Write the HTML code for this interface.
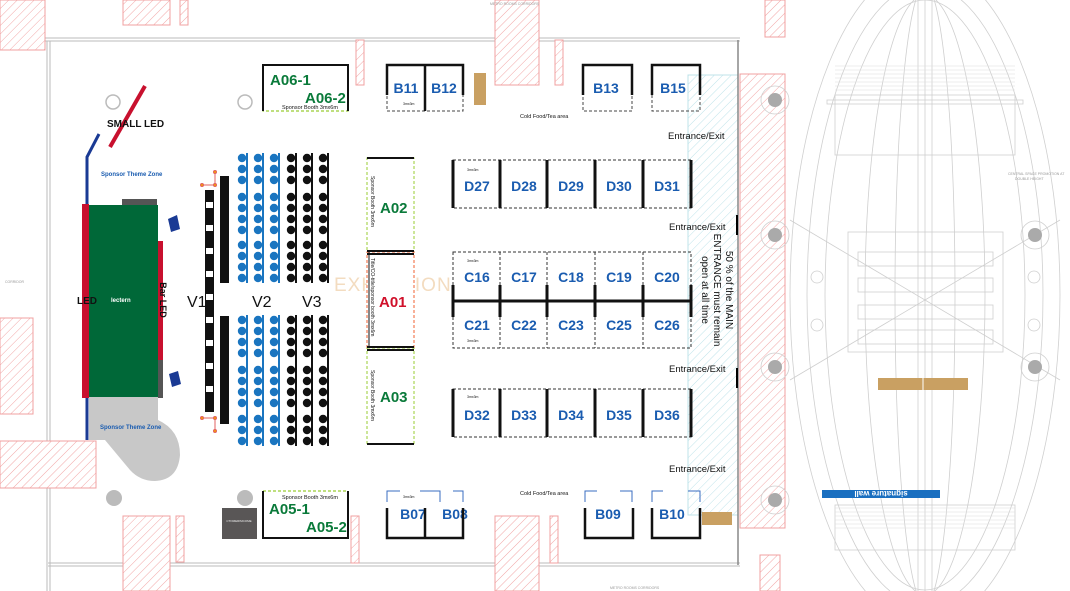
<!DOCTYPE html>
<html><head><meta charset="utf-8"><style>
html,body{margin:0;padding:0;background:#fff;width:1070px;height:591px;overflow:hidden;}
svg{display:block;font-family:"Liberation Sans",sans-serif;}
</style></head><body>
<svg width="1070" height="591" viewBox="0 0 1070 591" xmlns="http://www.w3.org/2000/svg">
<defs>
<pattern id="hr" width="6" height="6" patternUnits="userSpaceOnUse" patternTransform="rotate(45)">
<rect width="6" height="6" fill="#fff"/><line x1="0" y1="0" x2="0" y2="6" stroke="#f2a6a6" stroke-width="1"/></pattern>
<pattern id="hc" width="6" height="6" patternUnits="userSpaceOnUse" patternTransform="rotate(45)">
<rect width="6" height="6" fill="#fff"/><line x1="0" y1="0" x2="0" y2="6" stroke="#bfe3ea" stroke-width="1"/></pattern>
</defs>
<g stroke="#bbb" stroke-width="1" fill="none">
<line x1="0" y1="38" x2="740" y2="38"/><line x1="0" y1="41" x2="740" y2="41"/>
<line x1="48" y1="563" x2="740" y2="563"/><line x1="48" y1="566" x2="740" y2="566"/>
<line x1="47" y1="41" x2="47" y2="591"/><line x1="50" y1="41" x2="50" y2="591"/>
</g>
<g fill="url(#hr)" stroke="#f0a0a0" stroke-width="1">
<rect x="0" y="0" width="45" height="50"/>
<rect x="123" y="0" width="47" height="25"/><rect x="180" y="0" width="8" height="25"/>
<rect x="495" y="0" width="44" height="85"/>
<rect x="356" y="40" width="8" height="45"/><rect x="555" y="40" width="8" height="45"/>
<rect x="495" y="516" width="44" height="75"/>
<rect x="351" y="516" width="8" height="47"/><rect x="550" y="516" width="8" height="47"/>
<rect x="123" y="516" width="47" height="75"/><rect x="176" y="516" width="8" height="46"/>
<rect x="0" y="318" width="33" height="96"/>
<rect x="0" y="441" width="96" height="47"/>
<rect x="765" y="0" width="20" height="37"/>
<rect x="740" y="74" width="45" height="454"/>
<rect x="760" y="555" width="20" height="36"/>
</g>
<rect x="688" y="75" width="50" height="440" fill="url(#hc)" stroke="#bfe3ea"/>
<line x1="738" y1="40" x2="738" y2="565" stroke="#888" stroke-width="1.5"/>
<line x1="737" y1="215" x2="737" y2="235" stroke="#000" stroke-width="2"/>
<line x1="737" y1="368" x2="737" y2="388" stroke="#000" stroke-width="2"/>
<g stroke="#cfcfcf" stroke-width="0.8" fill="none">
<ellipse cx="925" cy="295" rx="135" ry="330"/>
<ellipse cx="925" cy="295" rx="118" ry="310"/>
<ellipse cx="925" cy="295" rx="100" ry="295"/>
<ellipse cx="925" cy="295" rx="60" ry="300"/>
<ellipse cx="925" cy="295" rx="30" ry="310"/>
<line x1="925" y1="0" x2="925" y2="591"/><line x1="918" y1="0" x2="918" y2="591"/><line x1="932" y1="0" x2="932" y2="591"/>
<rect x="835" y="95" width="180" height="60"/><rect x="827" y="100" width="196" height="4"/>
<rect x="835" y="505" width="180" height="45"/>
<rect x="848" y="232" width="155" height="120"/>
<rect x="858" y="252" width="135" height="14"/><rect x="858" y="278" width="135" height="14"/><rect x="858" y="305" width="135" height="14"/><rect x="858" y="330" width="135" height="14"/>
<line x1="790" y1="220" x2="1060" y2="380"/><line x1="790" y1="380" x2="1060" y2="220"/>
<circle cx="775" cy="100" r="14"/><circle cx="775" cy="235" r="14"/><circle cx="775" cy="367" r="14"/><circle cx="775" cy="500" r="14"/>
<circle cx="1035" cy="235" r="14"/><circle cx="1035" cy="367" r="14"/>
<circle cx="817" cy="277" r="6"/><circle cx="817" cy="325" r="6"/><circle cx="1034" cy="277" r="6"/><circle cx="1034" cy="325" r="6"/>
</g>
<g stroke="#ddd" stroke-width="0.6">
<line x1="835" y1="66" x2="1015" y2="66"/><line x1="835" y1="70" x2="1015" y2="70"/><line x1="835" y1="74" x2="1015" y2="74"/><line x1="835" y1="78" x2="1015" y2="78"/><line x1="835" y1="82" x2="1015" y2="82"/><line x1="835" y1="86" x2="1015" y2="86"/><line x1="835" y1="90" x2="1015" y2="90"/>
<line x1="835" y1="508" x2="1015" y2="508"/><line x1="835" y1="512" x2="1015" y2="512"/><line x1="835" y1="516" x2="1015" y2="516"/><line x1="835" y1="520" x2="1015" y2="520"/><line x1="835" y1="524" x2="1015" y2="524"/><line x1="835" y1="528" x2="1015" y2="528"/>
</g>
<g fill="#aaa"><circle cx="775" cy="100" r="7"/><circle cx="775" cy="235" r="7"/><circle cx="775" cy="367" r="7"/><circle cx="775" cy="500" r="7"/><circle cx="1035" cy="235" r="7"/><circle cx="1035" cy="367" r="7"/></g>
<rect x="878" y="378" width="90" height="12" fill="#c9a062"/><line x1="923" y1="378" x2="923" y2="390" stroke="#fff"/>
<rect x="822" y="490" width="118" height="8" fill="#1a6fc0"/>
<text x="881" y="497" font-size="8" font-weight="bold" fill="#fff" text-anchor="middle" transform="rotate(180 881 494)">signature wall</text>
<path d="M89 397 L158 397 L158 420 Q180 430 180 455 Q178 480 155 481 Q140 481 130 470 L105 440 L89 440 Z" fill="#c8c8c8"/>
<rect x="122" y="199" width="35" height="7" fill="#555"/>
<rect x="158" y="360" width="5" height="38" fill="#555"/>
<rect x="89" y="205" width="69" height="192" fill="#006838"/>
<rect x="82" y="204" width="7" height="194" fill="#c8102e"/>
<rect x="158" y="241" width="5" height="119" fill="#c8102e"/>
<polyline points="87,204 87,157 99,134" fill="none" stroke="#1a3a94" stroke-width="3"/>
<line x1="87" y1="398" x2="87" y2="440" stroke="#1a3a94" stroke-width="3"/>
<line x1="145" y1="86" x2="110" y2="147" stroke="#c8102e" stroke-width="4"/>
<polygon points="168,219 177,215 180,229 171,232" fill="#1a3a94"/>
<polygon points="169,374 178,371 181,384 172,387" fill="#1a3a94"/>
<text x="107" y="127" font-size="10" font-weight="bold" fill="#111">SMALL LED</text>
<text x="101" y="176" font-size="6" fill="#1a5cb0" font-weight="bold">Sponsor Theme Zone</text>
<text x="100" y="429" font-size="6" fill="#1a5cb0" font-weight="bold">Sponsor Theme Zone</text>
<text x="77" y="304" font-size="10" font-weight="bold" fill="#111">LED</text>
<text x="111" y="302" font-size="6" font-weight="bold" fill="#fff">lectern</text>
<text x="160" y="300" font-size="9" font-weight="bold" fill="#111" transform="rotate(90 160 300)" text-anchor="middle">Bar LED</text>
<circle cx="113" cy="102" r="7" fill="none" stroke="#bbb" stroke-width="1.5"/>
<circle cx="245" cy="102" r="7" fill="none" stroke="#bbb" stroke-width="1.5"/>
<circle cx="114" cy="498" r="8" fill="#bbb"/><circle cx="245" cy="498" r="8" fill="#bbb"/>
<rect x="222" y="508" width="35" height="31" fill="#595656"/>
<text x="239" y="522" font-size="3" fill="#eee" text-anchor="middle">CTOMERIMCOME</text>
<rect x="205" y="190" width="9" height="222" fill="#111"/>
<g fill="#fff"><rect x="206" y="202" width="7" height="6"/><rect x="206" y="225" width="7" height="6"/><rect x="206" y="248" width="7" height="6"/><rect x="206" y="271" width="7" height="6"/><rect x="206" y="294" width="7" height="6"/><rect x="206" y="317" width="7" height="6"/><rect x="206" y="340" width="7" height="6"/><rect x="206" y="363" width="7" height="6"/><rect x="206" y="386" width="7" height="6"/></g>
<rect x="220" y="176" width="9" height="107" fill="#111"/>
<rect x="220" y="316" width="9" height="108" fill="#111"/>
<g stroke="#e06060" stroke-width="1" fill="#f5a000"><polyline points="202,185 215,185 215,172" fill="none"/><polyline points="202,418 215,418 215,431" fill="none"/><circle cx="202" cy="185" r="1.5"/><circle cx="215" cy="172" r="1.5"/><circle cx="215" cy="185" r="1.5"/><circle cx="202" cy="418" r="1.5"/><circle cx="215" cy="418" r="1.5"/><circle cx="215" cy="431" r="1.5"/></g>
<g font-size="16" fill="#111"><text x="187" y="307">V1</text><text x="252" y="307">V2</text><text x="302" y="307">V3</text></g>
<g fill="#1a75c0">
<circle cx="242" cy="158" r="4.2"/><circle cx="258" cy="158" r="4.2"/><circle cx="274" cy="158" r="4.2"/>
<circle cx="242" cy="169" r="4.2"/><circle cx="258" cy="169" r="4.2"/><circle cx="274" cy="169" r="4.2"/>
<circle cx="242" cy="180" r="4.2"/><circle cx="258" cy="180" r="4.2"/><circle cx="274" cy="180" r="4.2"/>
<circle cx="242" cy="197" r="4.2"/><circle cx="258" cy="197" r="4.2"/><circle cx="274" cy="197" r="4.2"/>
<circle cx="242" cy="208" r="4.2"/><circle cx="258" cy="208" r="4.2"/><circle cx="274" cy="208" r="4.2"/>
<circle cx="242" cy="219" r="4.2"/><circle cx="258" cy="219" r="4.2"/><circle cx="274" cy="219" r="4.2"/>
<circle cx="242" cy="230" r="4.2"/><circle cx="258" cy="230" r="4.2"/><circle cx="274" cy="230" r="4.2"/>
<circle cx="242" cy="245" r="4.2"/><circle cx="258" cy="245" r="4.2"/><circle cx="274" cy="245" r="4.2"/>
<circle cx="242" cy="256" r="4.2"/><circle cx="258" cy="256" r="4.2"/><circle cx="274" cy="256" r="4.2"/>
<circle cx="242" cy="267" r="4.2"/><circle cx="258" cy="267" r="4.2"/><circle cx="274" cy="267" r="4.2"/>
<circle cx="242" cy="278" r="4.2"/><circle cx="258" cy="278" r="4.2"/><circle cx="274" cy="278" r="4.2"/>
<circle cx="242" cy="320" r="4.2"/><circle cx="258" cy="320" r="4.2"/><circle cx="274" cy="320" r="4.2"/>
<circle cx="242" cy="331" r="4.2"/><circle cx="258" cy="331" r="4.2"/><circle cx="274" cy="331" r="4.2"/>
<circle cx="242" cy="342" r="4.2"/><circle cx="258" cy="342" r="4.2"/><circle cx="274" cy="342" r="4.2"/>
<circle cx="242" cy="353" r="4.2"/><circle cx="258" cy="353" r="4.2"/><circle cx="274" cy="353" r="4.2"/>
<circle cx="242" cy="370" r="4.2"/><circle cx="258" cy="370" r="4.2"/><circle cx="274" cy="370" r="4.2"/>
<circle cx="242" cy="381" r="4.2"/><circle cx="258" cy="381" r="4.2"/><circle cx="274" cy="381" r="4.2"/>
<circle cx="242" cy="392" r="4.2"/><circle cx="258" cy="392" r="4.2"/><circle cx="274" cy="392" r="4.2"/>
<circle cx="242" cy="403" r="4.2"/><circle cx="258" cy="403" r="4.2"/><circle cx="274" cy="403" r="4.2"/>
<circle cx="242" cy="419" r="4.2"/><circle cx="258" cy="419" r="4.2"/><circle cx="274" cy="419" r="4.2"/>
<circle cx="242" cy="430" r="4.2"/><circle cx="258" cy="430" r="4.2"/><circle cx="274" cy="430" r="4.2"/>
<circle cx="242" cy="441" r="4.2"/><circle cx="258" cy="441" r="4.2"/><circle cx="274" cy="441" r="4.2"/>
<rect x="246" y="153" width="2" height="130" /><rect x="262" y="153" width="2" height="130"/><rect x="278" y="153" width="2" height="130"/>
<rect x="246" y="315" width="2" height="131"/><rect x="262" y="315" width="2" height="131"/><rect x="278" y="315" width="2" height="131"/>
</g>
<g fill="#111">
<circle cx="291" cy="158" r="4.2"/><circle cx="307" cy="158" r="4.2"/><circle cx="323" cy="158" r="4.2"/>
<circle cx="291" cy="169" r="4.2"/><circle cx="307" cy="169" r="4.2"/><circle cx="323" cy="169" r="4.2"/>
<circle cx="291" cy="180" r="4.2"/><circle cx="307" cy="180" r="4.2"/><circle cx="323" cy="180" r="4.2"/>
<circle cx="291" cy="197" r="4.2"/><circle cx="307" cy="197" r="4.2"/><circle cx="323" cy="197" r="4.2"/>
<circle cx="291" cy="208" r="4.2"/><circle cx="307" cy="208" r="4.2"/><circle cx="323" cy="208" r="4.2"/>
<circle cx="291" cy="219" r="4.2"/><circle cx="307" cy="219" r="4.2"/><circle cx="323" cy="219" r="4.2"/>
<circle cx="291" cy="230" r="4.2"/><circle cx="307" cy="230" r="4.2"/><circle cx="323" cy="230" r="4.2"/>
<circle cx="291" cy="245" r="4.2"/><circle cx="307" cy="245" r="4.2"/><circle cx="323" cy="245" r="4.2"/>
<circle cx="291" cy="256" r="4.2"/><circle cx="307" cy="256" r="4.2"/><circle cx="323" cy="256" r="4.2"/>
<circle cx="291" cy="267" r="4.2"/><circle cx="307" cy="267" r="4.2"/><circle cx="323" cy="267" r="4.2"/>
<circle cx="291" cy="278" r="4.2"/><circle cx="307" cy="278" r="4.2"/><circle cx="323" cy="278" r="4.2"/>
<circle cx="291" cy="320" r="4.2"/><circle cx="307" cy="320" r="4.2"/><circle cx="323" cy="320" r="4.2"/>
<circle cx="291" cy="331" r="4.2"/><circle cx="307" cy="331" r="4.2"/><circle cx="323" cy="331" r="4.2"/>
<circle cx="291" cy="342" r="4.2"/><circle cx="307" cy="342" r="4.2"/><circle cx="323" cy="342" r="4.2"/>
<circle cx="291" cy="353" r="4.2"/><circle cx="307" cy="353" r="4.2"/><circle cx="323" cy="353" r="4.2"/>
<circle cx="291" cy="370" r="4.2"/><circle cx="307" cy="370" r="4.2"/><circle cx="323" cy="370" r="4.2"/>
<circle cx="291" cy="381" r="4.2"/><circle cx="307" cy="381" r="4.2"/><circle cx="323" cy="381" r="4.2"/>
<circle cx="291" cy="392" r="4.2"/><circle cx="307" cy="392" r="4.2"/><circle cx="323" cy="392" r="4.2"/>
<circle cx="291" cy="403" r="4.2"/><circle cx="307" cy="403" r="4.2"/><circle cx="323" cy="403" r="4.2"/>
<circle cx="291" cy="419" r="4.2"/><circle cx="307" cy="419" r="4.2"/><circle cx="323" cy="419" r="4.2"/>
<circle cx="291" cy="430" r="4.2"/><circle cx="307" cy="430" r="4.2"/><circle cx="323" cy="430" r="4.2"/>
<circle cx="291" cy="441" r="4.2"/><circle cx="307" cy="441" r="4.2"/><circle cx="323" cy="441" r="4.2"/>
<rect x="295" y="153" width="2" height="130"/><rect x="311" y="153" width="2" height="130"/><rect x="327" y="153" width="2" height="130"/>
<rect x="295" y="315" width="2" height="131"/><rect x="311" y="315" width="2" height="131"/><rect x="327" y="315" width="2" height="131"/>
</g>
<text x="334" y="291" font-size="19" fill="#f3dcc0" letter-spacing="1">EXHIBITION</text>
<rect x="263" y="65" width="85" height="46" fill="#fff" stroke="#9c3" stroke-width="1.2" stroke-dasharray="3,2"/>
<path d="M263 111 V65 H348 V111" fill="none" stroke="#111" stroke-width="2"/>
<text x="270" y="85" font-size="15" font-weight="bold" fill="#0a7a3a">A06-1</text>
<text x="305" y="103" font-size="15" font-weight="bold" fill="#0a7a3a">A06-2</text>
<text x="282" y="109" font-size="5.5" fill="#111">Sponsor Booth  3mx6m</text>
<rect x="263" y="491" width="85" height="47" fill="#fff" stroke="#9c3" stroke-width="1.2" stroke-dasharray="3,2"/>
<path d="M263 491 V538 H348 V491" fill="none" stroke="#111" stroke-width="2"/>
<text x="282" y="499" font-size="5.5" fill="#111">Sponsor Booth  3mx6m</text>
<text x="269" y="514" font-size="15" font-weight="bold" fill="#0a7a3a">A05-1</text>
<text x="306" y="532" font-size="15" font-weight="bold" fill="#0a7a3a">A05-2</text>
<rect x="367" y="158" width="47" height="94" fill="#fff" stroke="#9c3" stroke-width="1" stroke-dasharray="3,2"/>
<rect x="367" y="252" width="47" height="96" fill="#fff" stroke="#f06030" stroke-width="1" stroke-dasharray="3,2"/>
<rect x="367" y="348" width="47" height="96" fill="#fff" stroke="#9c3" stroke-width="1" stroke-dasharray="3,2"/>
<g stroke="#111" stroke-width="2"><line x1="367" y1="158" x2="414" y2="158"/><line x1="367" y1="251" x2="414" y2="251"/><line x1="367" y1="254" x2="414" y2="254"/><line x1="367" y1="347" x2="414" y2="347"/><line x1="367" y1="350" x2="414" y2="350"/><line x1="367" y1="444" x2="414" y2="444"/></g>
<line x1="369" y1="252" x2="369" y2="348" stroke="#111" stroke-width="1"/>
<text x="380" y="213" font-size="15" font-weight="bold" fill="#0a7a3a">A02</text>
<text x="379" y="307" font-size="15" font-weight="bold" fill="#d0102a">A01</text>
<text x="380" y="402" font-size="15" font-weight="bold" fill="#0a7a3a">A03</text>
<g font-size="5" fill="#111"><text transform="translate(371,176) rotate(90)">Sponsor Booth  3mx6m</text><text transform="translate(371,258) rotate(90)">Title/CO-title/sponsor booth 3mx6m</text><text transform="translate(371,370) rotate(90)">Sponsor Booth  3mx6m</text></g>
<g fill="none" stroke="#333" stroke-width="1" stroke-dasharray="3,2">
<rect x="453" y="160" width="238" height="48"/>
<rect x="453" y="252" width="238" height="96"/>
<rect x="453" y="389" width="238" height="48"/>
<line x1="500" y1="252" x2="500" y2="348"/><line x1="547" y1="252" x2="547" y2="348"/><line x1="595" y1="252" x2="595" y2="348"/><line x1="643" y1="252" x2="643" y2="348"/>
</g>
<g stroke="#111" stroke-width="3">
<line x1="453" y1="160" x2="453" y2="208"/><line x1="500" y1="160" x2="500" y2="208"/><line x1="547" y1="160" x2="547" y2="208"/><line x1="595" y1="160" x2="595" y2="208"/><line x1="643" y1="160" x2="643" y2="208"/><line x1="691" y1="160" x2="691" y2="208"/>
<line x1="453" y1="389" x2="453" y2="437"/><line x1="500" y1="389" x2="500" y2="437"/><line x1="547" y1="389" x2="547" y2="437"/><line x1="595" y1="389" x2="595" y2="437"/><line x1="643" y1="389" x2="643" y2="437"/><line x1="691" y1="389" x2="691" y2="437"/>
<line x1="453" y1="301" x2="691" y2="301"/>
<line x1="453" y1="285" x2="453" y2="317"/><line x1="500" y1="285" x2="500" y2="317"/><line x1="547" y1="285" x2="547" y2="317"/><line x1="595" y1="285" x2="595" y2="317"/><line x1="643" y1="285" x2="643" y2="317"/><line x1="691" y1="285" x2="691" y2="317"/>
</g>
<g font-size="14" font-weight="bold" fill="#1a5cb0" text-anchor="middle">
<text x="477" y="191">D27</text><text x="524" y="191">D28</text><text x="571" y="191">D29</text><text x="619" y="191">D30</text><text x="667" y="191">D31</text>
<text x="477" y="282">C16</text><text x="524" y="282">C17</text><text x="571" y="282">C18</text><text x="619" y="282">C19</text><text x="667" y="282">C20</text>
<text x="477" y="330">C21</text><text x="524" y="330">C22</text><text x="571" y="330">C23</text><text x="619" y="330">C25</text><text x="667" y="330">C26</text>
<text x="477" y="420">D32</text><text x="524" y="420">D33</text><text x="571" y="420">D34</text><text x="619" y="420">D35</text><text x="667" y="420">D36</text>
</g>
<g font-size="3.5" fill="#111"><text x="467" y="171">3mx3m</text><text x="467" y="262">3mx3m</text><text x="467" y="342">3mx3m</text><text x="467" y="398">3mx3m</text><text x="403" y="105">3mx3m</text><text x="403" y="498">3mx3m</text></g>
<g fill="none" stroke="#444" stroke-width="1" stroke-dasharray="3,2">
<rect x="387" y="65" width="76" height="46"/><rect x="583" y="65" width="49" height="46"/><rect x="652" y="65" width="48" height="46"/>
</g>
<g fill="none" stroke="#111" stroke-width="2.5">
<path d="M387 95 V65 H463 V95"/><line x1="425" y1="65" x2="425" y2="111"/>
<path d="M583 95 V65 H632 V95"/><path d="M652 95 V65 H700 V95"/>
</g>
<rect x="474" y="73" width="12" height="32" fill="#c9a062"/>
<g font-size="14" font-weight="bold" fill="#1a5cb0" text-anchor="middle">
<text x="406" y="93">B11</text><text x="444" y="93">B12</text><text x="606" y="93">B13</text><text x="673" y="93">B15</text>
<text x="413" y="519">B07</text><text x="455" y="519">B08</text><text x="608" y="519">B09</text><text x="672" y="519">B10</text>
</g>
<g fill="none" stroke="#3a6cc0" stroke-width="1">
<path d="M387 502 V491 H400 M420 491 H440 V502 M453 491 H463 V502"/><path d="M585 502 V491 H597 M620 491 H632 V502"/><path d="M652 502 V491 H663 M688 491 H700 V502"/>
</g>
<g fill="none" stroke="#111" stroke-width="2.5">
<path d="M387 508 V538 H463 V508"/><line x1="425" y1="508" x2="425" y2="538"/>
<path d="M585 508 V538 H633 V508"/><path d="M652 508 V538 H700 V508"/>
</g>
<rect x="702" y="512" width="30" height="13" fill="#c9a062"/>
<g font-size="5.5" fill="#111"><text x="520" y="118">Cold Food/Tea area</text><text x="520" y="495">Cold Food/Tea area</text></g>
<g font-size="9.5" fill="#111"><text x="668" y="139">Entrance/Exit</text><text x="669" y="230">Entrance/Exit</text><text x="669" y="372">Entrance/Exit</text><text x="669" y="472">Entrance/Exit</text></g>
<g font-size="10" fill="#111" text-anchor="middle">
<text transform="translate(726,290) rotate(90)">50 % of the MAIN</text>
<text transform="translate(714,290) rotate(90)">ENTRANCE must remain</text>
<text transform="translate(702,290) rotate(90)">open at all time</text>
</g>
<g font-size="3.5" fill="#999"><text x="490" y="5">METRO ROOMS CORRIDORS</text><text x="610" y="589">METRO ROOMS CORRIDORS</text><text x="1008" y="175">CENTRAL SPACE PROMOTION AT</text><text x="1015" y="180">DOUBLE HEIGHT</text><text x="5" y="283">CORRIDOR</text></g>
</svg>
</body></html>
